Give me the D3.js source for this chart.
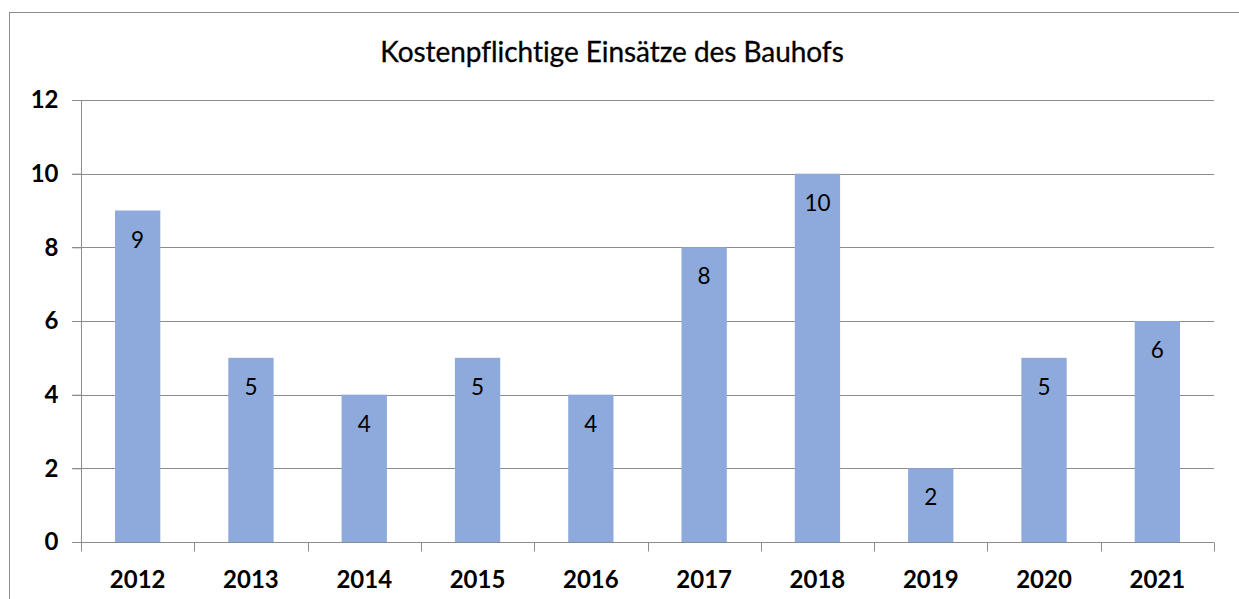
<!DOCTYPE html>
<html>
<head>
<meta charset="utf-8">
<script src="https://cdn.jsdelivr.net/npm/d3@7"></script>
<style>
  html, body { margin: 0; padding: 0; background: #fff; overflow: hidden; }
  svg { display: block; font-family: Lato, sans-serif; }
</style>
</head>
<body>
<div id="chart"></div>
<script>
// chart data
const years  = ['2012','2013','2014','2015','2016','2017','2018','2019','2020','2021'];
const counts = [9, 5, 4, 5, 4, 8, 10, 2, 5, 6];
const yTicks = [0, 2, 4, 6, 8, 10, 12];
const title  = 'Kostenpflichtige Einsätze des Bauhofs';

const W = 1239, H = 599;
const plot = { left: 81, right: 1214, top: 100, bottom: 542 };

const svg = d3.select('#chart').append('svg')
    .attr('width', W)
    .attr('height', H);

// outer chart border
svg.append('rect')
    .attr('x', 9.5).attr('y', 12.5)
    .attr('width', W).attr('height', H)
    .attr('fill', 'none')
    .attr('stroke', '#8c8c8c')
    .attr('stroke-width', 1);

svg.append('text')
    .attr('x', 612).attr('y', 62)
    .attr('text-anchor', 'middle')
    .attr('font-size', 28)
    .attr('letter-spacing', -0.05)
    .attr('stroke', '#000')
    .attr('stroke-width', 0.3)
    .attr('fill', '#000')
    .text(title);

const x = d3.scaleBand()
    .domain(years)
    .range([plot.left, plot.right])
    .paddingInner(0.6)
    .paddingOuter(0.3);

const xb = d3.scaleBand()
    .domain(years)
    .range([plot.left, plot.right]);

const y = d3.scaleLinear()
    .domain([0, 12])
    .range([plot.bottom, plot.top]);

// gridlines
svg.append('g')
    .selectAll('line')
    .data(yTicks.slice(1))
    .join('line')
      .attr('x1', plot.left - 9).attr('x2', plot.right)
      .attr('y1', d => Math.round(y(d)) + 0.5)
      .attr('y2', d => Math.round(y(d)) + 0.5)
      .attr('stroke', '#8c8c8c');

// bars
svg.append('g')
    .selectAll('rect')
    .data(years.map((yr, i) => ({ yr, v: counts[i] })))
    .join('rect')
      .attr('x', d => x(d.yr))
      .attr('y', d => y(d.v))
      .attr('width', x.bandwidth())
      .attr('height', d => y(0) - y(d.v))
      .attr('fill', '#8eaadc');

// value labels
svg.append('g')
    .selectAll('text')
    .data(years.map((yr, i) => ({ yr, v: counts[i] })))
    .join('text')
      .attr('x', d => x(d.yr) + x.bandwidth() / 2)
      .attr('y', d => y(d.v) + 37)
      .attr('text-anchor', 'middle')
      .attr('font-size', 22.5)
      .attr('fill', '#000')
      .text(d => d.v);

// y axis
const yAxis = svg.append('g')
    .attr('transform', `translate(${plot.left + 0.5},0)`)
    .call(d3.axisLeft(y).tickValues(yTicks).tickSize(9).tickPadding(14).tickFormat(d3.format('d')));
yAxis.selectAll('.tick line').attr('stroke', '#8c8c8c');
yAxis.select('.domain').attr('stroke', '#8c8c8c').attr('d', `M0,${plot.top}V${plot.bottom}`);
yAxis.selectAll('text')
    .attr('font-size', 24).attr('font-weight', 'bold')
    .attr('font-family', 'Lato, sans-serif').attr('fill', '#000');

// x axis with ticks at category boundaries
const xAxis = svg.append('g')
    .attr('transform', `translate(0,${plot.bottom + 0.5})`);
xAxis.append('line')
    .attr('x1', plot.left - 9).attr('x2', plot.right)
    .attr('stroke', '#8c8c8c');
xAxis.selectAll('.bound')
    .data(years.concat(['end']))
    .join('line')
      .attr('class', 'bound')
      .attr('x1', (d, i) => Math.round(i < years.length ? xb(d) : plot.right) + 0.5)
      .attr('x2', (d, i) => Math.round(i < years.length ? xb(d) : plot.right) + 0.5)
      .attr('y1', 0).attr('y2', 9)
      .attr('stroke', '#8c8c8c');
xAxis.selectAll('text')
    .data(years)
    .join('text')
      .attr('x', d => xb(d) + xb.bandwidth() / 2)
      .attr('y', 45)
      .attr('text-anchor', 'middle')
      .attr('font-size', 24)
      .attr('font-weight', 'bold')
      .attr('fill', '#000')
      .text(d => d);
</script>
</body>
</html>
